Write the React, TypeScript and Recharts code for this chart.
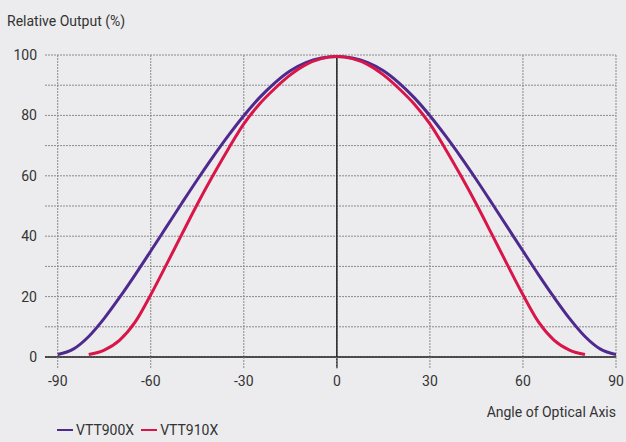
import React from "react";
import {
  LineChart,
  Line,
  XAxis,
  YAxis,
  CartesianGrid,
  ReferenceLine,
  Legend,
} from "recharts";

const angles = [
  -90, -85, -80, -75, -70, -65, -60, -55, -50, -45, -40, -35, -30, -25, -20, -15, -10, -5, 0,
  5, 10, 15, 20, 25, 30, 35, 40, 45, 50, 55, 60, 65, 70, 75, 80, 85, 90,
];

// VTT900X, -90..90
const vtt900 = [
  0.8, 2.6, 6.8, 12.8, 19.8, 27.3, 35.1, 43.0, 50.9, 58.7, 66.2, 73.3, 79.9, 85.8, 90.8, 94.8, 97.5, 99.0, 99.5,
  99.0, 97.5, 94.8, 90.8, 85.8, 79.9, 73.3, 66.2, 58.7, 50.9, 43.0, 35.1, 27.3, 19.8, 12.8, 6.8, 2.6, 0.8,
];

// VTT910X, -80..80 (null outside)
const vtt910 = [
  null, null, 0.8, 2.3, 5.6, 11.6, 20.6, 30.5, 40.6, 50.6, 60.0, 68.9, 77.2, 83.7, 88.9, 93.4, 96.8, 98.8, 99.5,
  98.8, 96.8, 93.4, 88.9, 83.7, 77.2, 68.9, 60.0, 50.6, 40.6, 30.5, 20.6, 11.6, 5.6, 2.3, 0.8, null, null,
];

const xTicks = [-90, -60, -30, 0, 30, 60, 90];
const yTicks = [0, 10, 20, 30, 40, 50, 60, 70, 80, 90, 100];
const yLabels = [0, 20, 40, 60, 80, 100];

const series = [
  { key: "vtt900", name: "VTT900X", color: "#4e2a8e" },
  { key: "vtt910", name: "VTT910X", color: "#d8164a" },
];

const data = angles.map((a, i) => ({ angle: a, vtt900: vtt900[i], vtt910: vtt910[i] }));

const FONT = "Roboto, sans-serif";
const TEXT = "#333";

function LegendBox() {
  return (
    <div style={{ display: "flex", alignItems: "center", height: 20, fontFamily: FONT, fontSize: 14, color: TEXT }}>
      {series.map((s) => (
        <span key={s.key} style={{ display: "flex", alignItems: "center", marginRight: 7 }}>
          <span style={{ display: "inline-block", width: 16, height: 2, background: s.color, marginRight: 3 }} />
          {s.name}
        </span>
      ))}
    </div>
  );
}

export default function App() {
  return (
    <div style={{ position: "absolute", left: 0, top: 0, width: 626, height: 442, background: "#ececee" }}>
      <LineChart width={626} height={442} data={data} margin={{ top: 55, right: 10, left: 0, bottom: 2 }}>
        <CartesianGrid
          stroke="#8a8a8a"
          strokeDasharray="2 1"
          horizontalValues={yTicks}
          verticalValues={xTicks}
        />
        <XAxis
          dataKey="angle"
          type="number"
          domain={[-94.1, 90]}
          ticks={xTicks}
          allowDataOverflow
          height={63}
          axisLine={{ stroke: "#222", strokeWidth: 1.5 }}
          tickLine={{ stroke: "#8a8a8a", strokeDasharray: "2 1" }}
          tickSize={11}
          tickMargin={8}
          tick={{ fontSize: 14, fill: TEXT, fontFamily: FONT }}
          label={{
            content: () => (
              <text x={616} y={417} textAnchor="end" fontSize={14} fill={TEXT} fontFamily={FONT}>
                Angle of Optical Axis
              </text>
            ),
          }}
        />
        <YAxis
          type="number"
          domain={[0, 100]}
          ticks={yLabels}
          width={45}
          axisLine={false}
          tickLine={false}
          tick={{ fontSize: 14, fill: TEXT, fontFamily: FONT }}
          label={{
            content: () => (
              <text x={7} y={26} fontSize={14} fill={TEXT} fontFamily={FONT}>
                Relative Output (%)
              </text>
            ),
          }}
        />
        <ReferenceLine
          segment={[
            { x: 0, y: -3.7 },
            { x: 0, y: 100 },
          ]}
          stroke="#222"
          strokeWidth={1.5}
          ifOverflow="visible"
        />
        {series.map((s) => (
          <Line
            key={s.key}
            dataKey={s.key}
            name={s.name}
            type="monotone"
            stroke={s.color}
            strokeWidth={3}
            dot={false}
            activeDot={false}
            isAnimationActive={false}
          />
        ))}
        <Legend
          verticalAlign="bottom"
          align="left"
          content={() => <LegendBox />}
          wrapperStyle={{ left: 57, width: 300, height: 20 }}
        />
      </LineChart>
    </div>
  );
}
